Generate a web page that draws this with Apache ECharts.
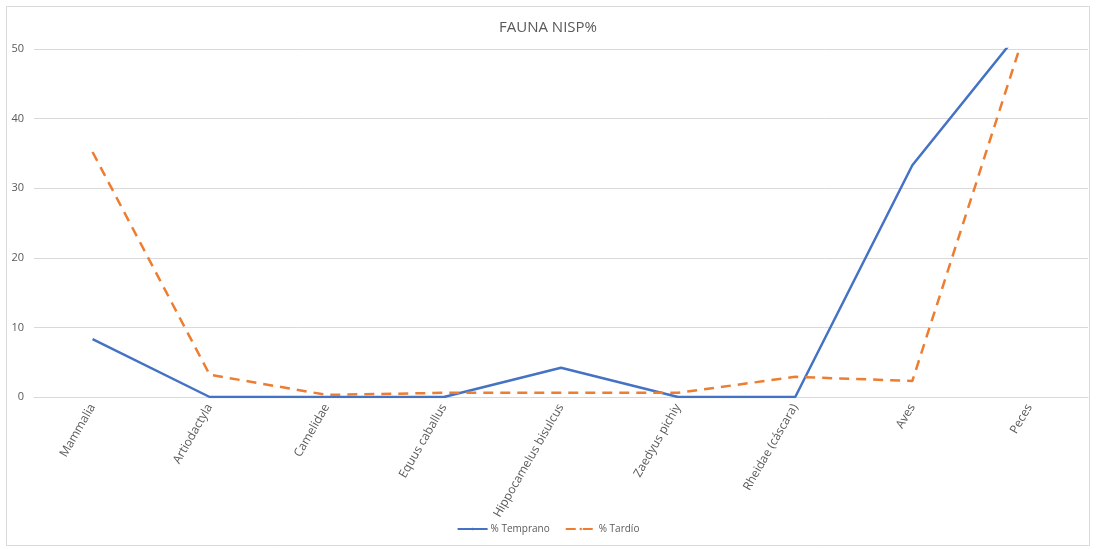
<!DOCTYPE html>
<html>
<head>
<meta charset="utf-8">
<script src="https://cdn.jsdelivr.net/npm/echarts@6/dist/echarts.min.js"></script>
<style>
  html, body { margin: 0; padding: 0; background: #fff; }
  #chart { width: 1096px; height: 549px; }
</style>
</head>
<body>
<div id="chart"></div>
<script>
// datos
var categorias = ['Mammalia', 'Artiodactyla', 'Camelidae', 'Equus caballus', 'Hippocamelus bisulcus',
                  'Zaedyus pichiy', 'Rheidae (cáscara)', 'Aves', 'Peces'];
var temprano = [8.3, 0, 0, 0, 4.2, 0, 0, 33.3, 54.2];
var tardio = [35.2, 3.2, 0.3, 0.6, 0.6, 0.6, 2.9, 2.3, 54.5];
var nombres = ['% Temprano', '% Tardío'];

var myChart = echarts.init(document.getElementById('chart'));

var option = {
    backgroundColor: '#fff',
    textStyle: { fontFamily: 'Open Sans' },
    title: {
        text: 'FAUNA NISP%',
        left: 'center',
        top: 15,
        textStyle: { fontSize: 15, fontWeight: 'normal', color: '#595959', fontFamily: 'Open Sans' }
    },
    // marco exterior del gráfico
    graphic: [{
        type: 'rect',
        shape: { x: 6.5, y: 6.5, width: 1083, height: 539 },
        style: { fill: 'none', stroke: '#d9d9d9', lineWidth: 1 },
        silent: true
    }],
    legend: {
        data: nombres,
        bottom: 10,
        left: 'center',
        itemWidth: 30,
        itemHeight: 3,
        itemGap: 15,
        textStyle: { fontSize: 10, color: '#595959', padding: [0, 0, 0, -2] }
    },
    grid: { left: 34, right: 8, top: 49, bottom: 152, containLabel: false },
    xAxis: {
        type: 'category',
        data: categorias,
        boundaryGap: true,
        axisLine: { lineStyle: { color: '#d9d9d9' } },
        axisTick: { show: false },
        axisLabel: { rotate: 60, fontSize: 12, color: '#595959', margin: 8, interval: 0 }
    },
    yAxis: {
        type: 'value',
        min: 0,
        max: 50,
        interval: 10,
        axisLine: { show: false },
        axisTick: { show: false },
        axisLabel: { fontSize: 11, color: '#595959', margin: 10 },
        splitLine: { lineStyle: { color: '#d9d9d9' } }
    },
    series: [{
        name: nombres[0],
        type: 'line',
        data: temprano,
        symbol: 'none',
        clip: true,
        color: '#4472c4',
        lineStyle: { width: 2.5, color: '#4472c4' }
    }, {
        name: nombres[1],
        type: 'line',
        data: tardio,
        symbol: 'none',
        clip: true,
        color: '#ed7d31',
        lineStyle: { width: 2.5, color: '#ed7d31', type: [10, 7] }
    }]
};

myChart.setOption(option);
</script>
</body>
</html>
